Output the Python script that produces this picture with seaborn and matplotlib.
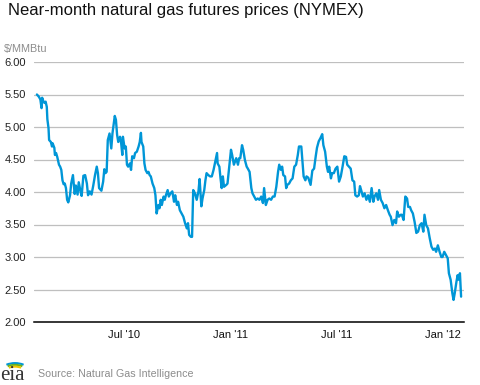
import pandas as pd
import numpy as np
import matplotlib
matplotlib.use("Agg")
import matplotlib.pyplot as plt
from matplotlib.patches import Arc
import seaborn as sns

# Near-month NYMEX natural gas futures
# day offsets counted from 2010-02-01, prices in $/MMBtu
day_offsets = [
    0, 3, 5, 6, 8, 9, 11, 13, 15, 17, 18, 20, 21, 24, 26, 27, 30, 31, 33, 35,
    38, 40, 42, 44, 46, 48, 50, 52, 54, 57, 59, 62, 65, 67, 70, 72, 75, 77, 80, 83,
    86, 88, 91, 94, 97, 100, 103, 105, 107, 111, 114, 116, 118, 120, 122, 125, 128, 130, 132, 134,
    136, 138, 140, 143, 145, 147, 148, 151, 153, 155, 157, 160, 162, 164, 167, 169, 172, 175, 177, 179,
    180, 183, 185, 187, 190, 192, 194, 196, 199, 202, 204, 206, 209, 211, 213, 215, 218, 220, 222, 225,
    227, 230, 233, 236, 238, 241, 243, 246, 249, 252, 255, 258, 260, 262, 265, 267, 269, 272, 275, 278,
    280, 283, 285, 288, 290, 292, 295, 298, 301, 304, 307, 310, 311, 314, 316, 318, 320, 322, 326, 328,
    331, 334, 336, 339, 341, 343, 346, 348, 350, 353, 355, 358, 361, 363, 366, 369, 371, 374, 377, 380,
    383, 386, 389, 391, 394, 397, 400, 403, 406, 409, 412, 415, 417, 420, 422, 424, 427, 429, 431, 434,
    437, 440, 443, 446, 449, 451, 455, 457, 459, 462, 464, 467, 471, 474, 477, 480, 482, 485, 488, 491,
    493, 496, 499, 501, 503, 506, 508, 511, 514, 517, 520, 523, 526, 529, 532, 534, 537, 540, 543, 546,
    548, 551, 554, 556, 558, 561, 564, 567, 570, 573, 576, 579, 581, 584, 587, 589, 592, 595, 598, 601,
    604, 607, 609, 612, 615, 618, 620, 623, 626, 628, 631, 634, 637, 639, 642, 644, 647, 650, 653, 656,
    659, 662, 665, 667, 670, 673, 676, 679, 682, 685, 687, 690, 693, 696, 698, 701, 704, 707, 709, 712,
    715, 717, 719, 722, 724, 726, 728, 730,
]
prices = [
    5.50, 5.47, 5.44, 5.42, 5.29, 5.45, 5.40, 5.37, 5.39, 5.31, 5.12, 4.98, 4.80, 4.77, 4.70, 4.75, 4.68, 4.57, 4.60, 4.54,
    4.42, 4.39, 4.34, 4.18, 4.12, 4.13, 4.06, 3.88, 3.84, 3.95, 4.13, 4.26, 3.97, 4.10, 3.96, 4.15, 4.01, 3.94, 4.25, 4.26,
    4.13, 3.95, 4.01, 3.96, 4.10, 4.26, 4.39, 4.29, 4.06, 4.02, 4.16, 4.35, 4.29, 4.31, 4.80, 4.90, 4.67, 4.90, 5.03, 5.17,
    5.11, 4.88, 4.77, 4.85, 4.75, 4.57, 4.85, 4.67, 4.70, 4.42, 4.39, 4.44, 4.34, 4.55, 4.52, 4.60, 4.62, 4.70, 4.77, 4.91,
    4.77, 4.70, 4.44, 4.34, 4.29, 4.31, 4.26, 4.24, 4.13, 4.06, 3.95, 3.67, 3.80, 3.75, 3.88, 3.80, 3.93, 3.88, 3.95, 4.03,
    3.93, 3.98, 4.01, 3.85, 3.95, 3.80, 3.85, 3.72, 3.67, 3.62, 3.52, 3.44, 3.52, 3.34, 3.31, 3.31, 4.03, 3.98, 3.88, 4.01,
    4.20, 3.78, 3.90, 4.03, 4.18, 4.29, 4.26, 4.24, 4.24, 4.34, 4.47, 4.60, 4.44, 4.39, 4.21, 4.06, 4.24, 4.08, 4.11, 4.13,
    4.39, 4.65, 4.57, 4.42, 4.47, 4.52, 4.42, 4.52, 4.52, 4.72, 4.65, 4.49, 4.39, 4.36, 4.31, 4.06, 3.98, 3.93, 3.88, 3.90,
    3.88, 3.93, 3.83, 4.06, 3.80, 3.88, 3.90, 3.88, 3.93, 3.93, 4.08, 4.31, 4.42, 4.34, 4.39, 4.26, 4.24, 4.06, 4.11, 4.13,
    4.18, 4.21, 4.39, 4.42, 4.57, 4.70, 4.70, 4.47, 4.24, 4.18, 4.24, 4.22, 4.11, 4.33, 4.36, 4.56, 4.68, 4.78, 4.83, 4.89,
    4.72, 4.62, 4.39, 4.31, 4.39, 4.21, 4.29, 4.29, 4.36, 4.39, 4.16, 4.24, 4.39, 4.55, 4.54, 4.42, 4.39, 4.36, 4.18, 4.16,
    3.95, 3.93, 3.95, 4.09, 4.03, 3.93, 3.98, 3.88, 3.95, 3.85, 4.06, 3.85, 3.93, 3.98, 3.88, 4.03, 3.88, 3.83, 3.75, 3.80,
    3.72, 3.65, 3.62, 3.49, 3.57, 3.52, 3.70, 3.62, 3.65, 3.65, 3.57, 3.93, 3.90, 3.77, 3.77, 3.72, 3.67, 3.54, 3.37, 3.39,
    3.49, 3.52, 3.39, 3.65, 3.49, 3.44, 3.29, 3.16, 3.11, 3.13, 3.08, 3.18, 3.08, 3.00, 3.00, 3.08, 3.03, 2.98, 2.75, 2.65,
    2.44, 2.34, 2.44, 2.62, 2.72, 2.65, 2.75, 2.39,
]

tick_dates = ["2010-07-01", "2011-01-01", "2011-07-01", "2012-01-01"]
tick_labels = ["Jul '10", "Jan '11", "Jul '11", "Jan '12"]
y_ticks = [2.0, 2.5, 3.0, 3.5, 4.0, 4.5, 5.0, 5.5, 6.0]

df = pd.DataFrame({
    "date": pd.Timestamp("2010-02-01") + pd.to_timedelta(day_offsets, unit="D"),
    "price": prices,
})

sns.set_style("white")
plt.rcParams["font.family"] = ["Liberation Sans", "DejaVu Sans"]

fig = plt.figure(figsize=(4.8, 3.85), dpi=100)
ax = fig.add_axes([34 / 480, 1 - 322 / 385, 430 / 480, 260 / 385])

sns.lineplot(data=df, x="date", y="price", ax=ax, color="#0096d7", linewidth=1.7)

ax.set_ylim(2, 6)
ax.set_xlim(pd.Timestamp("2010-01-27"), pd.Timestamp("2012-02-06"))

# horizontal grid, no line at the baseline
for v in y_ticks[1:]:
    ax.axhline(v, color="#bfbfbf", linewidth=0.9, zorder=0)

ax.set_yticks(y_ticks)
ax.set_yticklabels([f"{v:.2f}" for v in y_ticks], fontsize=8, color="#222222")
for lab in ax.get_yticklabels():
    lab.set_horizontalalignment("left")
ax.tick_params(axis="y", length=0, pad=21)

ax.set_xticks(pd.to_datetime(tick_dates))
ax.set_xticklabels(tick_labels, fontsize=8, color="#111111")
ax.tick_params(axis="x", direction="out", length=4, width=1, color="black", pad=2)

for side in ["top", "right", "left"]:
    ax.spines[side].set_visible(False)
ax.spines["bottom"].set_color("black")
ax.spines["bottom"].set_linewidth(1.1)
ax.set_xlabel("")
ax.set_ylabel("")

fig.text(8 / 480, 1 - 10 / 385, "Near-month natural gas futures prices (NYMEX)",
         fontsize=12, color="#111111", va="center", ha="left")
fig.text(4 / 480, 1 - 49 / 385, "$/MMBtu", fontsize=7.8, color="#8c8c8c",
         va="center", ha="left")
fig.text(38 / 480, 1 - 374 / 385, "Source: Natural Gas Intelligence", fontsize=7.7,
         color="#8c8c8c", va="center", ha="left")

# eia logo
logo = fig.add_axes([0, 0, 34 / 480, 36 / 385])
logo.set_xlim(0, 34)
logo.set_ylim(0, 36)
logo.axis("off")
logo.text(12, 5, "eia", family=["Liberation Serif", "DejaVu Serif"], fontsize=15,
          color="#333333", ha="center", va="baseline")
for r, col in [(17, "#0096d7"), (14.5, "#6ab023"), (12, "#f2c500")]:
    logo.add_patch(Arc((15, 10), 2 * r, 2 * r * 0.7, theta1=50, theta2=130,
                       color=col, linewidth=1.5, clip_on=False))

fig.savefig("out.png", dpi=100)
